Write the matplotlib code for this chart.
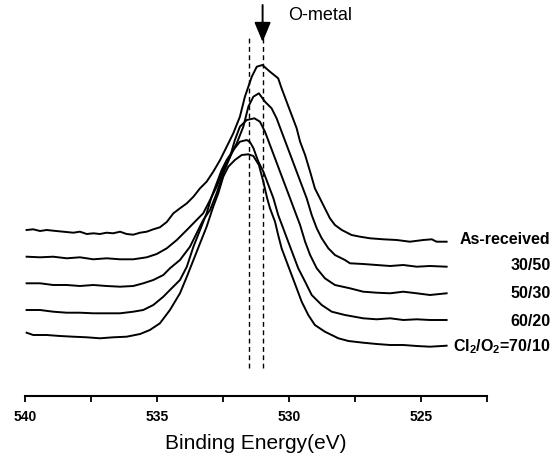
import matplotlib
matplotlib.use("Agg")
from matplotlib import pyplot as plt

plt.rcParams['font.family'] = ['Liberation Sans', 'DejaVu Sans']
plt.rcParams['mathtext.fontset'] = 'custom'
plt.rcParams['mathtext.rm'] = 'Liberation Sans'
plt.rcParams['mathtext.bf'] = 'Liberation Sans:bold'

# O 1s spectra, stacked (a.u.)
as_received_e = [539.94, 539.69, 539.43, 539.18, 538.93, 538.55, 538.17, 537.92, 537.66, 537.41,
                 537.16, 536.91, 536.66, 536.40, 536.15, 535.90, 535.64, 535.39, 535.14, 534.89,
                 534.63, 534.38, 534.13, 533.87, 533.62, 533.37, 533.12, 532.87,
                 532.61, 532.36, 532.11, 531.86, 531.67, 531.54, 531.41, 531.22, 531.01, 530.72,
                 530.41, 530.28, 530.09, 529.90, 529.71, 529.58, 529.39, 529.20, 529.02, 528.83,
                 528.64, 528.45, 528.26, 528.00, 527.63, 527.31, 526.93, 526.43, 525.92, 525.42,
                 524.91, 524.59, 524.41, 524.03]
as_received_i = [166, 166.7, 165, 166, 165.3, 164.3, 163.3, 164.3, 162, 162.7,
                 162, 163.3, 162.7, 164.3, 162, 161.3, 163.3, 164.3, 166.7, 168.7,
                 174, 182.7, 187.7, 192.7, 199.3, 207.7, 214.3, 224.3,
                 236, 249.3, 262.7, 279.3, 299.3, 309.3, 319.3, 329.3, 331, 324.3,
                 317.7, 307.7, 294.3, 281, 267.7, 254.3, 241, 224.3, 207.7, 197.7,
                 187.7, 177.7, 171, 166, 161, 159.3, 157.7, 156.7, 156, 154.3,
                 156, 156.7, 154.3, 154.3]

r30_50_e = [539.94, 539.43, 538.93, 538.42, 537.92, 537.41, 536.91, 536.40, 535.90, 535.39,
            535.01, 534.63, 534.25, 533.87, 533.50, 533.25, 532.99, 532.74, 532.49, 532.23,
            531.98, 531.73, 531.54, 531.35, 531.14, 530.91, 530.66, 530.47, 530.28, 530.09,
            529.90, 529.71, 529.52, 529.33, 529.14, 528.95, 528.76, 528.51, 528.26, 527.88,
            527.69, 527.19, 526.68, 526.17, 525.67, 525.16, 524.66, 524.03]
r30_50_i = [139.3, 138.7, 139.3, 137.7, 138.7, 136.7, 137.7, 136.7, 136.7, 138.7,
            142, 147.7, 156, 166, 176, 182.7, 196, 209.3, 226, 239.3,
            252.7, 269.3, 289.3, 299.3, 302.7, 294.3, 287.7, 277.7, 264.3, 251,
            237.7, 224.3, 211, 197.7, 181, 167.7, 157.7, 147.7, 141, 136,
            132.7, 132, 131, 130, 131, 129.3, 130, 129.3]

r50_30_e = [539.94, 539.43, 538.93, 538.42, 537.92, 537.41, 536.91, 536.40, 535.90, 535.52,
            535.14, 534.76, 534.51, 534.13, 533.75, 533.50, 533.25, 532.99, 532.74, 532.49,
            532.23, 532.05, 531.86, 531.60, 531.31, 531.10, 530.91, 530.72, 530.53, 530.34,
            530.15, 529.96, 529.77, 529.58, 529.39, 529.20, 528.95, 528.64, 528.26, 527.69,
            527.19, 526.68, 526.17, 525.67, 525.16, 524.66, 524.03]
r50_30_i = [112.7, 112.7, 111, 111, 110, 111, 110, 109.3, 110, 112.7,
            116, 121, 127.7, 136, 149.3, 162.7, 176, 186, 202.7, 222.7,
            239.3, 256, 269.3, 276, 277.7, 274.3, 264.3, 251, 237.7, 224.3,
            211, 197.7, 184.3, 171, 154.3, 141, 127.7, 117.7, 111, 107.7,
            104.3, 103.3, 102.7, 104.3, 102.7, 101, 102.7]

r60_20_e = [539.94, 539.43, 538.93, 538.42, 537.92, 537.41, 536.91, 536.40, 535.90, 535.52,
            535.14, 534.76, 534.51, 534.13, 533.87, 533.62, 533.37, 533.12, 532.93, 532.74,
            532.55, 532.36, 532.11, 531.86, 531.60, 531.48, 531.35, 531.16, 530.97, 530.78,
            530.59, 530.41, 530.22, 530.03, 529.84, 529.65, 529.39, 529.14, 528.76, 528.38,
            527.88, 527.19, 526.68, 526.17, 525.67, 525.16, 524.66, 524.03]
r60_20_i = [86, 86, 84.3, 83.3, 83.3, 82.7, 82.7, 82.7, 84.3, 86,
            91, 99.3, 106, 116, 129.3, 149.3, 166, 182.7, 199.3, 212.7,
            226, 236, 246, 254.3, 256, 254, 248, 234.3, 224.3, 211,
            197.7, 181, 167.7, 154.3, 141, 127.7, 114.3, 101, 91, 84.3,
            81, 77.7, 76.7, 77.7, 76, 76.7, 76, 76]

r70_10_e = [539.94, 539.69, 539.18, 538.67, 538.17, 537.66, 537.16, 536.66, 536.15, 535.64,
            535.27, 534.89, 534.51, 534.13, 533.87, 533.62, 533.37, 533.12, 532.87, 532.68,
            532.49, 532.30, 532.05, 531.79, 531.54, 531.35, 531.14, 530.97, 530.83, 530.72,
            530.53, 530.41, 530.28, 530.09, 529.90, 529.71, 529.52, 529.27, 529.02, 528.64,
            528.13, 527.75, 527.19, 526.68, 526.17, 525.67, 525.16, 524.66, 524.03]
r70_10_i = [63.3, 61, 61, 60, 59.3, 58.7, 57.7, 58.7, 59.3, 62,
            66, 72.7, 86, 102.7, 119.3, 136, 152.7, 169.3, 189.3, 202.7,
            219.3, 229.3, 236, 241, 241.7, 240, 231, 214, 198, 187.7,
            174.3, 161, 147.7, 134.3, 121, 107.7, 94.3, 81, 71, 64.3,
            57.7, 55, 53.3, 52, 51, 51, 50, 49.3, 50.3]

spectra = [(as_received_e, as_received_i), (r30_50_e, r30_50_i), (r50_30_e, r50_30_i),
           (r60_20_e, r60_20_i), (r70_10_e, r70_10_i)]
labels = ["As-received", "30/50", "50/30", "60/20", r"Cl$_\mathbf{2}$/O$_\mathbf{2}$=70/10"]
label_y = [157, 130, 102, 75, 49]

ref_lines = [531.5, 531.0]   # dashed guide lines (eV)
o_metal = 531.0

fig = plt.figure(figsize=(5.56, 4.69), dpi=100)
ax = fig.add_axes([25 / 556, 73 / 469, 462 / 556, 396 / 469])

for e, i in spectra:
    ax.plot(e, i, color='black', lw=1.4)

ax.vlines(ref_lines, 28, 361, colors='black', linestyles=(0, (3.5, 2.5)), lw=1.0)

ax.annotate('', xy=(o_metal, 354), xytext=(o_metal, 391),
            arrowprops=dict(arrowstyle='-|>,head_width=0.25,head_length=0.6',
                            mutation_scale=20, lw=1.4, color='black',
                            shrinkA=0, shrinkB=0))
ax.text(530.05, 381, "O-metal", fontsize=13, va='center', ha='left')

for lab, y in zip(labels, label_y):
    ax.text(520.1, y, lab, fontsize=11.5, fontweight='bold', ha='right', va='center',
            clip_on=False)

ax.set_xlim(540, 522.5)
ax.set_ylim(0, 396)
for s in ['top', 'left', 'right']:
    ax.spines[s].set_visible(False)
ax.spines['bottom'].set_linewidth(1.5)
ax.set_yticks([])
ax.set_xticks([540, 535, 530, 525])
ax.set_xticks([537.5, 532.5, 527.5, 522.5], minor=True)
ax.tick_params(axis='x', which='both', direction='out', length=4, width=1.3, pad=6)
for t in ax.get_xticklabels():
    t.set_fontweight('bold')
    t.set_fontsize(10)
ax.set_xlabel("Binding Energy(eV)", fontsize=15, labelpad=7)

fig.savefig("out.png", dpi=100)
